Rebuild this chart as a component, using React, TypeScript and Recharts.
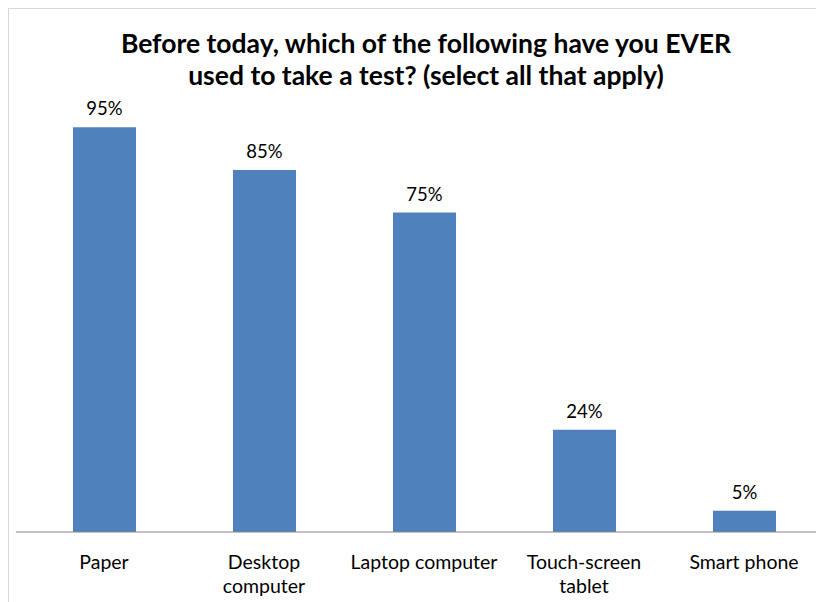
import { BarChart, Bar, XAxis, YAxis, LabelList } from "recharts";

const categories = ["Paper", "Desktop\ncomputer", "Laptop computer", "Touch-screen\ntablet", "Smart phone"];
const shares = [95, 85, 75, 24, 5];

const data = categories.map((name, i) => ({ name, value: shares[i] }));

const FONT = "Lato, 'Open Sans', sans-serif";

function CategoryTick(props: any) {
  const { x, y, payload } = props;
  const lines = String(payload.value).split("\n");
  return (
    <g transform={`translate(${x},${y})`}>
      {lines.map((line: string, i: number) => (
        <text
          key={i}
          x={0}
          y={29 + i * 24}
          textAnchor="middle"
          fontSize={19.5}
          fontFamily={FONT}
          fill="#000"
        >
          {line}
        </text>
      ))}
    </g>
  );
}

export default function App() {
  return (
    <div
      style={{
        position: "relative",
        width: 816,
        height: 594,
        overflow: "hidden",
        borderTop: "1px solid #d9d9d9",
        borderLeft: "1px solid #d9d9d9",
        boxSizing: "border-box",
        background: "#fff",
      }}
    >
      <div
        style={{
          position: "absolute",
          left: 0,
          top: 18,
          width: 834,
          textAlign: "center",
          fontFamily: FONT,
          fontWeight: 700,
          fontSize: 26.5,
          lineHeight: "32px",
          color: "#000",
        }}
      >
        Before today, which of the following have you EVER
        <br />
        used to take a test? (select all that apply)
      </div>
      <BarChart
        width={815}
        height={600}
        data={data}
        margin={{ top: 97, right: 0, bottom: 0, left: 7 }}
        barSize={63}
      >
        <YAxis hide domain={[0, 100]} />
        <XAxis
          dataKey="name"
          height={77}
          padding={{ left: 8, right: 0 }}
          axisLine={{ stroke: "#868686" }}
          tickLine={false}
          tick={<CategoryTick />}
          interval={0}
        />
        <Bar dataKey="value" fill="#4f81bd" isAnimationActive={false}>
          <LabelList
            dataKey="value"
            position="top"
            offset={12}
            formatter={(v: any) => `${v}%`}
            style={{ fontSize: 18.5, fontFamily: FONT, fill: "#000" }}
          />
        </Bar>
      </BarChart>
    </div>
  );
}
